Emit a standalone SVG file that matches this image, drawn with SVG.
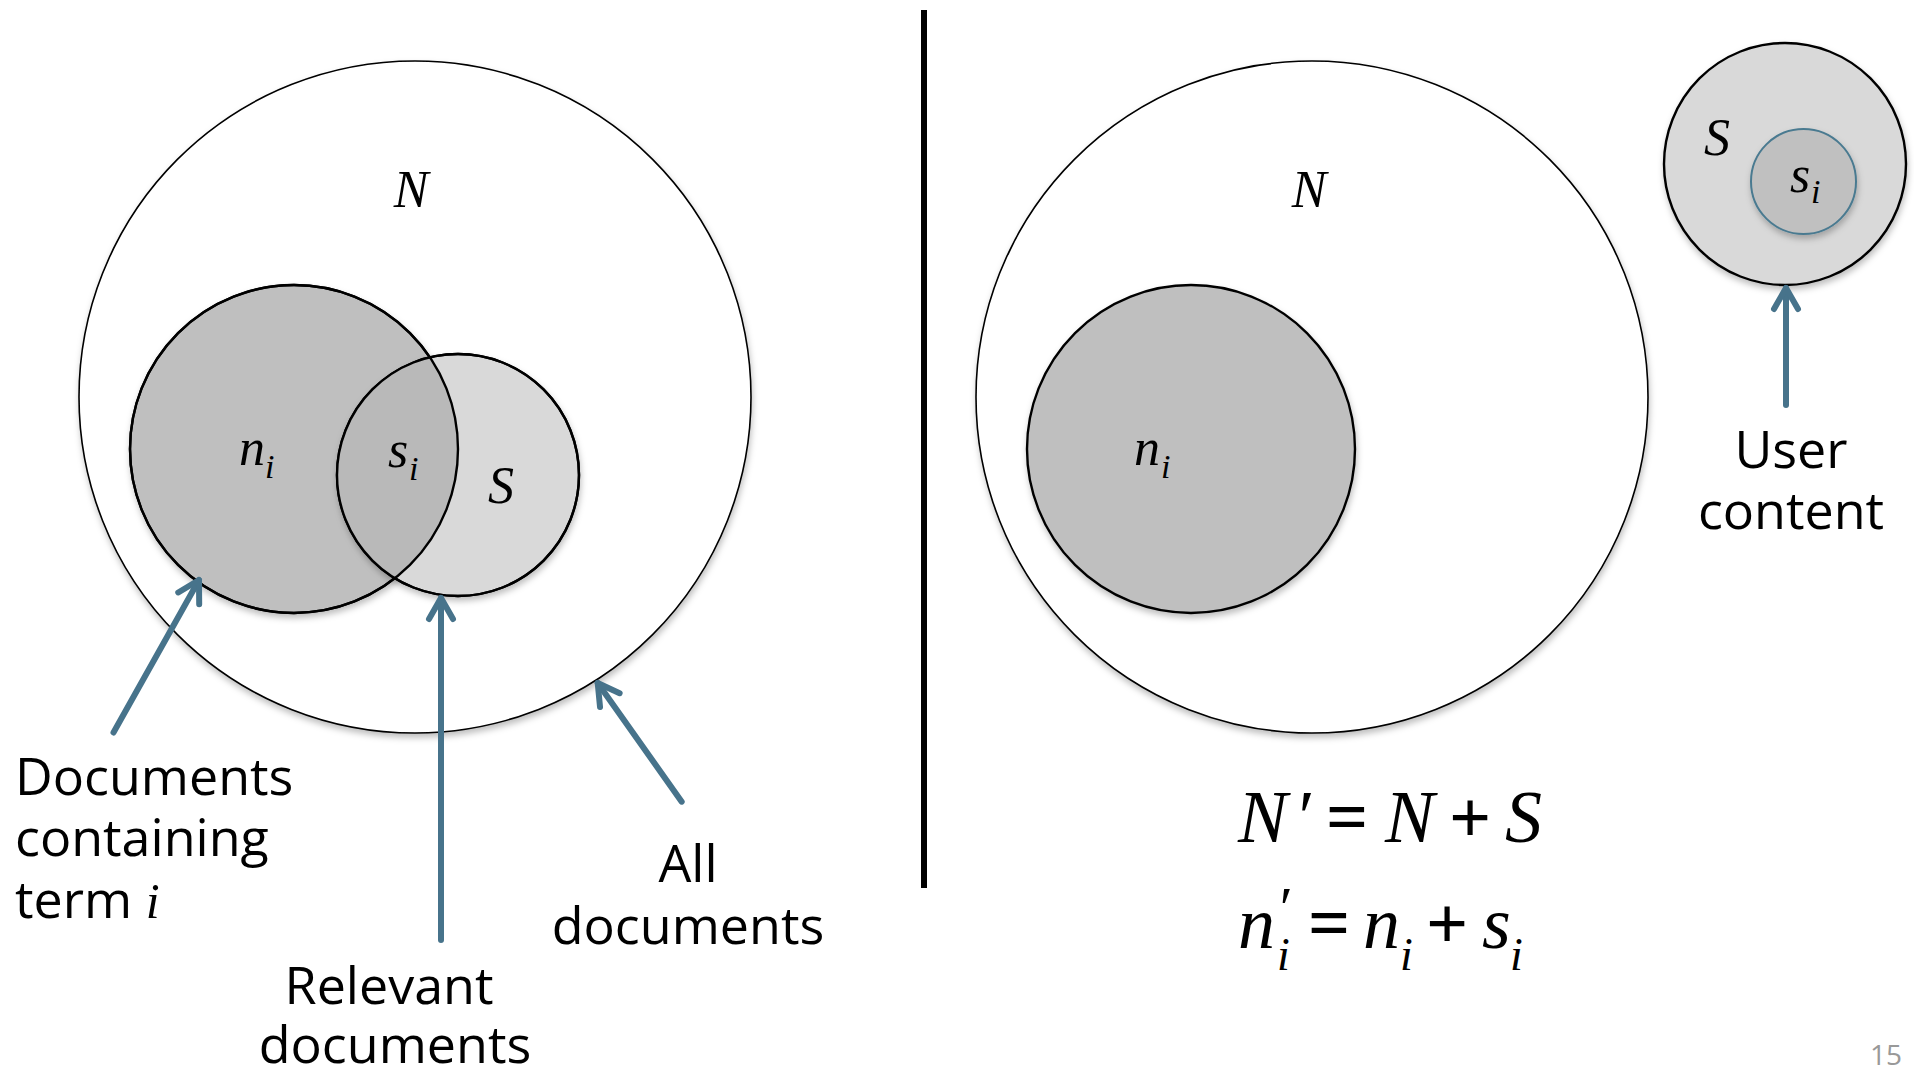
<svg xmlns="http://www.w3.org/2000/svg" width="1914" height="1070" viewBox="0 0 1914 1070">
<style>
.lbl{font-family:'Open Sans','Noto Sans',sans-serif;font-size:52px;fill:#000}
.big{fill:#fff;stroke:#000;stroke-width:1.6}
.dark{fill:#bfbfbf;stroke:#000;stroke-width:2.4}
.light{fill:#d9d9d9;stroke:#000;stroke-width:2.4}
.outline{fill:none;stroke:#000;stroke-width:2.4}
.conn{fill:none;stroke:#47738b;stroke-width:6;stroke-linecap:round}
</style>
<defs>
<filter id="sh" x="-10%" y="-10%" width="120%" height="125%">
<feDropShadow dx="1" dy="4" stdDeviation="3" flood-color="#000" flood-opacity="0.25"/>
</filter>
<clipPath id="niclip"><circle cx="294" cy="449" r="164"/></clipPath>
<marker id="ah" markerUnits="userSpaceOnUse" viewBox="-30 -20 40 40" refX="0" refY="0" markerWidth="40" markerHeight="40" orient="auto" overflow="visible">
<path d="M-21,-12 L0,0 L-21,12" fill="none" stroke="#47738b" stroke-width="6" stroke-linecap="round" stroke-linejoin="round"/>
</marker>
</defs>
<rect width="1914" height="1070" fill="#fff"/>

<g id="divider"><line x1="924" y1="10" x2="924" y2="888" stroke="#000" stroke-width="6"/></g>

<g id="left-all">
<circle class="big" cx="415" cy="397" r="336" filter="url(#sh)"/>
<text font-family="Liberation Serif, Times New Roman, serif" font-style="italic" x="411" y="207" font-size="52" text-anchor="middle">N</text>
</g>
<g id="left-ni">
<circle class="dark" cx="294" cy="449" r="164" filter="url(#sh)"/>
</g>
<g id="left-S">
<circle class="light" cx="458" cy="475" r="121" filter="url(#sh)"/>
<circle cx="458" cy="475" r="121" fill="#b9b9b9" clip-path="url(#niclip)"/>
<circle class="outline" cx="294" cy="449" r="164"/>
<circle class="outline" cx="458" cy="475" r="121"/>
<g font-family="Liberation Serif, Times New Roman, serif" font-style="italic">
<text x="239" y="465" font-size="52">n</text>
<text x="265" y="478" font-size="34">i</text>
<text x="388" y="467" font-size="52">s</text>
<text x="409" y="480" font-size="34">i</text>
<text x="488" y="503" font-size="52">S</text>
</g>
</g>

<g id="right-all">
<circle class="big" cx="1312" cy="397" r="336" filter="url(#sh)"/>
<text font-family="Liberation Serif, Times New Roman, serif" font-style="italic" x="1309" y="207" font-size="52" text-anchor="middle">N</text>
</g>
<g id="right-ni">
<circle class="dark" cx="1191" cy="449" r="164" filter="url(#sh)"/>
<g font-family="Liberation Serif, Times New Roman, serif" font-style="italic">
<text x="1134" y="465" font-size="52">n</text>
<text x="1161" y="478" font-size="34">i</text>
</g>
</g>

<g id="user-S">
<circle class="light" cx="1785" cy="164" r="121" filter="url(#sh)"/>
<text font-family="Liberation Serif, Times New Roman, serif" font-style="italic" x="1704" y="155" font-size="52">S</text>
</g>
<g id="user-si">
<circle cx="1803.5" cy="181.5" r="52.5" fill="#c0c0c0" stroke="#4a7a90" stroke-width="2" filter="url(#sh)"/>
<g font-family="Liberation Serif, Times New Roman, serif" font-style="italic">
<text x="1790" y="192" font-size="52">s</text>
<text x="1811" y="203" font-size="34">i</text>
</g>
</g>

<g id="connectors">
<line class="conn" x1="113.5" y1="732.5" x2="199" y2="580" marker-end="url(#ah)"/>
<line class="conn" x1="441" y1="940" x2="441" y2="598" marker-end="url(#ah)"/>
<line class="conn" x1="681.7" y1="801.7" x2="597.7" y2="683" marker-end="url(#ah)"/>
<line class="conn" x1="1786" y1="405" x2="1786" y2="288" marker-end="url(#ah)"/>
</g>

<g id="label-docs-term">
<text class="lbl" x="15" y="795">Documents</text>
<text class="lbl" x="15" y="856">containing</text>
<text class="lbl" x="15" y="918">term <tspan font-family="Liberation Serif, Times New Roman, serif" font-style="italic" font-size="50">i</tspan></text>
</g>
<g id="label-relevant">
<text class="lbl" x="389" y="1004" text-anchor="middle">Relevant</text>
<text class="lbl" x="395" y="1063" text-anchor="middle">documents</text>
</g>
<g id="label-all">
<text class="lbl" x="688" y="882" text-anchor="middle">All</text>
<text class="lbl" x="688" y="944" text-anchor="middle">documents</text>
</g>
<g id="label-user">
<text class="lbl" x="1791" y="468" text-anchor="middle">User</text>
<text class="lbl" x="1791" y="529" text-anchor="middle">content</text>
</g>

<g id="equations" font-family="Liberation Serif, Times New Roman, serif">
<g font-style="italic">
<text x="1238" y="842" font-size="74">N</text>
<text x="1294" y="842" font-size="74">′</text>
<text x="1385" y="842" font-size="74">N</text>
<text x="1505" y="842" font-size="74">S</text>
<text x="1238" y="948" font-size="74">n</text>
<text x="1276" y="928" font-size="60">′</text>
<text x="1277" y="970" font-size="46">i</text>
<text x="1363" y="948" font-size="74">n</text>
<text x="1400" y="970" font-size="46">i</text>
<text x="1482" y="948" font-size="74">s</text>
<text x="1510" y="970" font-size="46">i</text>
</g>
<g font-weight="bold">
<text x="1326" y="842" font-size="74">=</text>
<text x="1449" y="842" font-size="74">+</text>
<text x="1308" y="948" font-size="74">=</text>
<text x="1426" y="948" font-size="74">+</text>
</g>
</g>

<g id="page-number">
<text x="1902" y="1065" font-family="Open Sans, Liberation Sans, sans-serif" font-size="28" fill="#999" text-anchor="end">15</text>
</g>
</svg>
